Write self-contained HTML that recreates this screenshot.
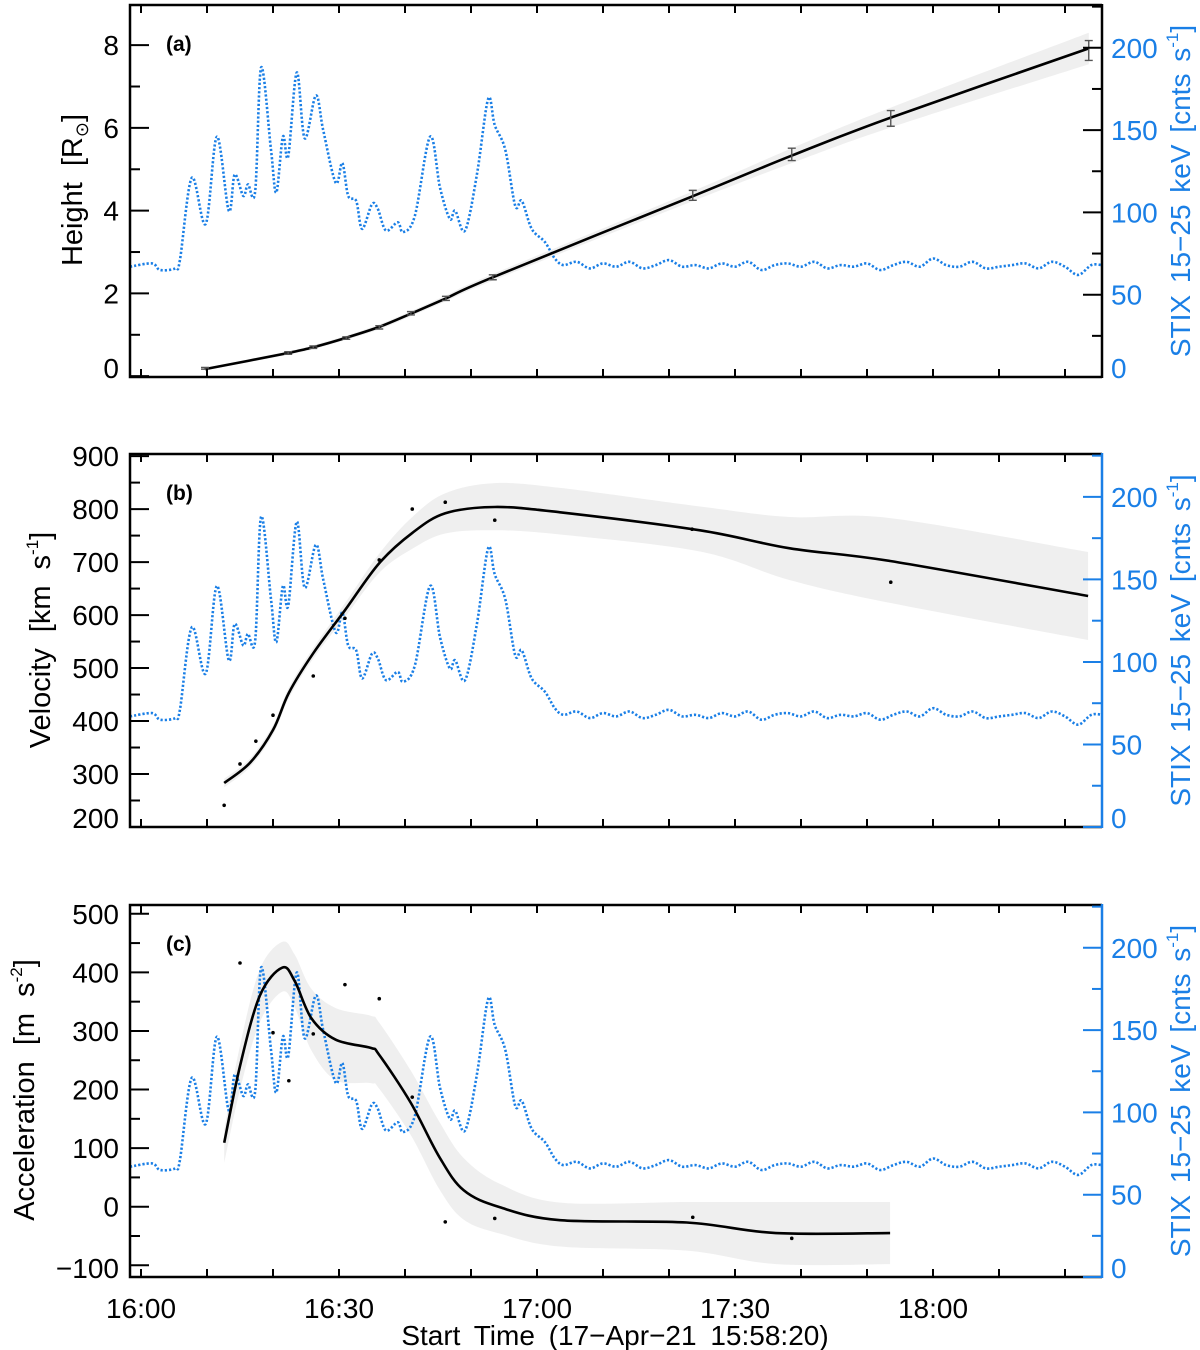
<!DOCTYPE html>
<html><head><meta charset="utf-8"><style>
body{margin:0;background:#fff}
svg{display:block}
text{font-family:"Liberation Sans",sans-serif}
</style></head><body>
<svg id="fig" width="1200" height="1350" viewBox="0 0 1200 1350" xmlns="http://www.w3.org/2000/svg"></svg>
<script>
// ---- STIX 15-25 keV counts (minutes since 16:00) ----
const stixTimes=[-1.67,1.67,2.9,5.2,5.9,7.7,9.8,11.5,13.3,14.2,15.5,16.2,17.3,18.2,19.7,20.5,21.5,22.3,23.6,24.8,26.5,27.6,29.5,30.5,31.4,32.6,33.5,35.0,35.9,37.1,38.9,39.7,41.5,43.8,45.3,46.8,47.6,49.1,50.9,52.6,53.6,55.2,56.7,57.7,59.2,61.2,62.7,
64,66,68,70,72,74,76,78,80,82,84,86,88,90,92,94,96,98,100,102,104,106,108,110,112,114,116,118,120,122,124,126,128,130,132,134,136,138,140,142,144,145.6];
const stixCounts=[67,69,65,66,71,121,93,146,101,123,110,117,113,188,138,112,146,134,185,145,171,150,118,130,110,107,90,105,102,89,94,88,98,146,115,96,101,89,123,169,153,138,104,107,90,82,72,
68,70,66,69,67,70,66,68,71,67,68,66,69,67,70,65,68,69,67,70,66,68,67,69,65,68,70,67,72,68,67,70,66,67,68,69,66,70,67,62,68,68];
// ---- Height panel ----
const hTimes=[9.7,22.3,26.1,31.1,36.1,40.9,46.2,53.3,83.6,98.6,113.6,143.6];
const hValues=[0.19,0.56,0.70,0.92,1.18,1.52,1.88,2.39,4.37,5.36,6.23,7.87];
const hErrors=[0.02,0.03,0.03,0.03,0.04,0.04,0.05,0.06,0.12,0.15,0.19,0.24];
const hFit=[0.17,0.56,0.70,0.93,1.19,1.51,1.88,2.39,4.35,5.33,6.25,7.92];
const hBand=[0.03,0.04,0.05,0.05,0.06,0.06,0.07,0.08,0.12,0.18,0.24,0.38];
// ---- Velocity panel ----
const vFitTimes=[12.6,16.5,20.0,22.4,26.1,30.9,36.1,41.1,46.1,53.6,63.5,84.7,98.3,113.5,143.5];
const vFit=[283,321,383,453,528,609,698,755,792,804,794,760,726,702,636];
const vUpper=[291,329,392,463,538,622,716,785,830,849,840,805,785,783,719];
const vLower=[275,313,374,443,518,596,680,725,754,760,752,720,666,623,553];
const vDotTimes=[12.6,15.0,17.4,20.0,26.1,30.9,36.1,41.1,46.1,53.6,83.5,113.6];
const vDots=[241,319,362,411,485,594,704,800,813,779,762,662];
// ---- Acceleration panel ----
const aFitTimes=[12.6,15.0,18.0,21.4,23.3,25.8,29.5,34.8,36.1,40.9,45.2,48.9,54.4,63.5,82.7,96.2,113.5];
const aFit=[109,240,360,408,385,322,285,271,259,177,85,28,-1,-23,-27,-45,-45];
const aUpper=[130,275,405,452,430,372,339,326,314,232,145,83,39,7,8,8,8];
const aLower=[75,200,315,367,340,267,216,211,201,122,30,-22,-46,-68,-75,-98,-98];
const aDotTimes=[15.0,20.0,22.4,26.1,30.9,36.1,41.1,46.1,53.6,83.6,98.6];
const aDots=[416,297,215,295,379,355,187,-26,-20,-18,-54];

const NS="http://www.w3.org/2000/svg";
const svg=document.getElementById('fig');
function mk(tag,attrs,parent){const e=document.createElementNS(NS,tag);for(const k in attrs)e.setAttribute(k,attrs[k]);(parent||svg).appendChild(e);return e;}
const X0=130,X1=1102;
function xs(t){return 141+6.6*t;}
const BLUE="#1a7fe6";
const panels=[
 {name:'height',top:5,bottom:377,lmin:-0.02,lmax:8.97,major:[0,2,4,6,8],minor:[1,3,5,7],lab:'a'},
 {name:'velocity',top:454,bottom:827,lmin:200,lmax:904,major:[200,300,400,500,600,700,800,900],minor:[250,350,450,550,650,750,850],lab:'b'},
 {name:'acceleration',top:905,bottom:1277,lmin:-120,lmax:515,major:[-100,0,100,200,300,400,500],minor:[-50,50,150,250,350,450],lab:'c'}
];
panels.forEach(p=>{
 p.y=v=>p.bottom-(v-p.lmin)/(p.lmax-p.lmin)*(p.bottom-p.top);
 p.yr=c=>p.bottom-c/226*(p.bottom-p.top);
});
function pts(ts,vs,f){return ts.map((t,i)=>[xs(t),f(vs[i])]);}
function smooth(P,first){let s=first?'M'+P[0][0].toFixed(1)+','+P[0][1].toFixed(1):'L'+P[0][0].toFixed(1)+','+P[0][1].toFixed(1);
 for(let i=0;i<P.length-1;i++){const p0=P[Math.max(0,i-1)],p1=P[i],p2=P[i+1],p3=P[Math.min(P.length-1,i+2)];
  const c1=[p1[0]+(p2[0]-p0[0])/6,p1[1]+(p2[1]-p0[1])/6],c2=[p2[0]-(p3[0]-p1[0])/6,p2[1]-(p3[1]-p1[1])/6];
  s+='C'+c1.map(v=>v.toFixed(1)).join(',')+' '+c2.map(v=>v.toFixed(1)).join(',')+' '+p2[0].toFixed(1)+','+p2[1].toFixed(1);}
 return s;}
function bandPath(ts,up,lo,f){const U=pts(ts,up,f),L=pts(ts,lo,f).reverse();return smooth(U,true)+smooth(L,false)+'Z';}

panels.forEach((p,pi)=>{
 const g=mk('g',{});
 
 
 let band,fit;
 if(pi===0){
  const up=hFit.map((v,i)=>v+hBand[i]),lo=hFit.map((v,i)=>v-hBand[i]);
  band=mk('path',{d:bandPath(hTimes,up,lo,p.y),fill:'#efefef'},g);
 } else if(pi===1){
  band=mk('path',{d:bandPath(vFitTimes,vUpper,vLower,p.y),fill:'#efefef'},g);
 } else {
  band=mk('path',{d:bandPath(aFitTimes,aUpper,aLower,p.y),fill:'#efefef'},g);
 }
 
 
 const st=mk('path',{d:smooth(pts(stixTimes,stixCounts,p.yr),true),fill:'none',stroke:BLUE,'stroke-width':2.6,'stroke-dasharray':'2.2 2'},g);
 
 
 if(pi===0){
  fit=mk('path',{d:smooth(pts(hTimes,hFit,p.y),true),fill:'none',stroke:'#000','stroke-width':2.6},g);
  hTimes.forEach((t,i)=>{
   const x=xs(t),y1=p.y(hValues[i]+hErrors[i]),y2=p.y(hValues[i]-hErrors[i]);
   const eb=mk('path',{d:`M${x},${y1}V${y2}M${x-4},${y1}H${x+4}M${x-4},${y2}H${x+4}`,stroke:'#555','stroke-width':1.4,fill:'none'},g);
   
   
  });
 } else if(pi===1){
  fit=mk('path',{d:smooth(pts(vFitTimes,vFit,p.y),true),fill:'none',stroke:'#000','stroke-width':2.6},g);
  vDotTimes.forEach((t,i)=>{const d=mk('circle',{cx:xs(t),cy:p.y(vDots[i]),r:1.8,fill:'#000'},g);
   
   });
 } else {
  fit=mk('path',{d:smooth(pts(aFitTimes,aFit,p.y),true),fill:'none',stroke:'#000','stroke-width':2.6},g);
  aDotTimes.forEach((t,i)=>{const d=mk('circle',{cx:xs(t),cy:p.y(aDots[i]),r:1.8,fill:'#000'},g);
   
   });
 }
 
 
 const rc=pi===0?'#000':BLUE;
 mk('path',{d:`M${X1},${p.top}H${X0}V${p.bottom}H${X1}`,fill:'none',stroke:'#000','stroke-width':2.5},g);
 const ra=mk('line',{x1:X1,y1:p.top-1,x2:X1,y2:p.bottom+1,stroke:rc,'stroke-width':2.5},g);
 
 
 for(let m=0;m<=140;m+=10){const x=xs(m);
  mk('line',{x1:x,y1:p.bottom,x2:x,y2:p.bottom-8,stroke:'#000','stroke-width':2},g);
  mk('line',{x1:x,y1:p.top,x2:x,y2:p.top+8,stroke:'#000','stroke-width':2},g);}
 p.major.forEach(v=>{const y=p.y(v);mk('line',{x1:X0,y1:y,x2:X0+19,y2:y,stroke:'#000','stroke-width':2},g);
  const ly=(p.bottom-y<12)?p.bottom-9:y;
  const t=mk('text',{x:119,y:ly+10,'font-size':28,'text-anchor':'end',fill:'#000'},g);t.textContent=(v<0?'\u2212'+(-v):v);
  
  });
 p.minor.forEach(v=>{const y=p.y(v);mk('line',{x1:X0,y1:y,x2:X0+10,y2:y,stroke:'#000','stroke-width':2},g);});
 for(let c=0;c<=225;c+=25){const y=p.yr(c);const maj=c%50===0;
  mk('line',{x1:X1,y1:y,x2:X1-(maj?19:10),y2:y,stroke:rc,'stroke-width':2},g);
  if(maj){const ly=(p.bottom-y<12)?p.bottom-9:y;
   const t=mk('text',{x:1111,y:ly+10,'font-size':28,fill:BLUE},g);t.textContent=c;
   
   }}
 const L=mk('text',{x:166,y:p.top+46,'font-size':21,'font-weight':'bold',fill:'#000'},g);L.textContent='('+p.lab+')';
 
 
 const rt=mk('text',{x:0,y:0,'font-size':28,fill:BLUE,'text-anchor':'middle','word-spacing':4,transform:`translate(1190,${(p.top+p.bottom)/2}) rotate(-90)`},g);
 rt.innerHTML='STIX 15\u221225 keV [cnts s<tspan font-size="17" dy="-12">-1</tspan><tspan dy="12">]</tspan>';
 
 
});
function ltitle(x,y,html,name){const t=mk('text',{'font-size':29,fill:'#000','text-anchor':'middle','word-spacing':8,transform:`translate(${x},${y}) rotate(-90)`});t.innerHTML=html;
 
 }
ltitle(82,190,'Height [R<tspan font-size="18" dy="6">\u2299</tspan><tspan dy="-6">]</tspan>','height-axis-title');
ltitle(50,640,'Velocity [km s<tspan font-size="17" dy="-12">-1</tspan><tspan dy="12">]</tspan>','velocity-axis-title');
ltitle(34,1090,'Acceleration [m s<tspan font-size="17" dy="-12">-2</tspan><tspan dy="12">]</tspan>','acceleration-axis-title');
const xLabels=['16:00','16:30','17:00','17:30','18:00'];
const xLabelMins=[0,30,60,90,120];
xLabels.forEach((s,i)=>{const t=mk('text',{x:xs(xLabelMins[i]),y:1318,'font-size':28,'text-anchor':'middle',fill:'#000'});t.textContent=s;
 
 });
const xt=mk('text',{x:615,y:1345,'font-size':28,'text-anchor':'middle','word-spacing':6,fill:'#000'});xt.textContent='Start Time (17\u2212Apr\u221221 15:58:20)';


</script>
</body></html>
